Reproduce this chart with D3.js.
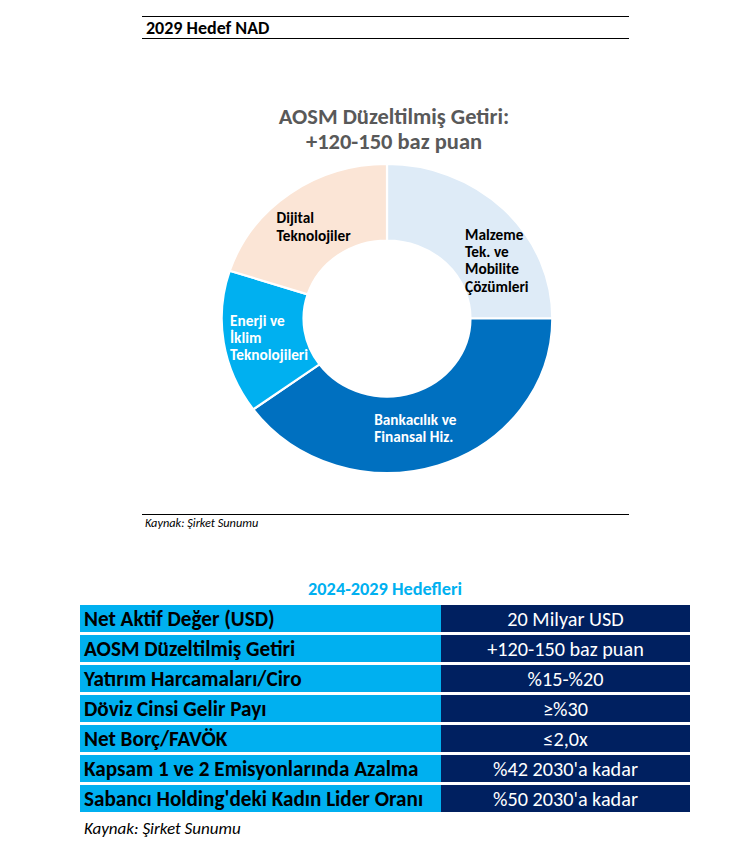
<!DOCTYPE html>
<html><head><meta charset="utf-8">
<script src="https://cdn.jsdelivr.net/npm/d3@7"></script>
<style>
html,body{margin:0;padding:0;background:#fff;}
svg{display:block;}
text{font-family:Carlito, Lato, "Open Sans", sans-serif;}
</style></head>
<body><svg id="c" width="752" height="855"></svg>
<script>
// ---- data ----
const segments = ["Malzeme Tek. ve Mobilite Çözümleri","Bankacılık ve Finansal Hiz.","Enerji ve İklim Teknolojileri","Dijital Teknolojiler"];
const segmentLines = [["Malzeme","Tek. ve","Mobilite","Çözümleri"],["Bankacılık ve","Finansal Hiz."],["Enerji ve","İklim","Teknolojileri"],["Dijital","Teknolojiler"]];
const segmentValues = [25,40,15,20];
const segmentColors = ["#DEEBF7","#0070C0","#00B0F0","#FBE5D6"];
const segmentTextColors = ["#000000","#ffffff","#ffffff","#000000"];
const metrics = ["Net Aktif Değer (USD)","AOSM Düzeltilmiş Getiri","Yatırım Harcamaları/Ciro","Döviz Cinsi Gelir Payı","Net Borç/FAVÖK","Kapsam 1 ve 2 Emisyonlarında Azalma","Sabancı Holding'deki Kadın Lider Oranı"];
const targets = ["20 Milyar USD","+120-150 baz puan","%15-%20","≥%30","≤2,0x","%42 2030'a kadar","%50 2030'a kadar"];

const svg = d3.select("#c");

// header
svg.append("line").attr("x1",142).attr("x2",629).attr("y1",16.5).attr("y2",16.5).attr("stroke","#000").attr("stroke-width",1.2);
svg.append("line").attr("x1",142).attr("x2",629).attr("y1",38.5).attr("y2",38.5).attr("stroke","#000").attr("stroke-width",1.2);
svg.append("text").attr("x",146).attr("y",34).attr("font-size",18).attr("font-weight","bold").attr("fill","#000").text("2029 Hedef NAD");

// donut title
svg.append("text").attr("x",394).attr("y",124).attr("text-anchor","middle").attr("font-size",22.5).attr("font-weight","bold").attr("fill","#595959").text("AOSM Düzeltilmiş Getiri:");
svg.append("text").attr("x",394).attr("y",149).attr("text-anchor","middle").attr("font-size",22.5).attr("font-weight","bold").attr("fill","#595959").text("+120-150 baz puan");

// donut
const cx = 387, cy = 318.5, sx = 1.07;
const pie = d3.pie().sort(null).value(d=>d)(segmentValues);
const arc = d3.arc().innerRadius(78).outerRadius(154.5);
const g = svg.append("g").attr("transform",`translate(${cx},${cy})`);
const gs = g.append("g").attr("transform",`scale(${sx},1)`);
gs.selectAll("path").data(pie).join("path")
  .attr("d",arc).attr("fill",(d,i)=>segmentColors[i])
  .attr("stroke","#fff").attr("stroke-width",2.2).attr("vector-effect","non-scaling-stroke");

const nudges = [[22,24],[-10,-1],[5,1],[0,2]];
const lh = 17.3;
pie.forEach((p,i)=>{
  const c = arc.centroid(p);
  const bx = c[0]*sx + nudges[i][0], by = c[1] + nudges[i][1];
  const lines = segmentLines[i];
  const t = g.append("text").attr("font-size",15.3).attr("font-weight","bold").attr("fill",segmentTextColors[i]);
  lines.forEach((l,j)=>{
    t.append("tspan").attr("x",0).attr("y",by + (j-(lines.length-1)/2)*lh + 5.5).text(l);
  });
  const w = t.node().getBBox().width;
  t.selectAll("tspan").attr("x",bx - w/2);
});

// source line
svg.append("line").attr("x1",142).attr("x2",629).attr("y1",514.5).attr("y2",514.5).attr("stroke","#000").attr("stroke-width",1.2);
svg.append("text").attr("x",145).attr("y",527).attr("font-size",12.3).attr("font-style","italic").attr("fill","#000").text("Kaynak: Şirket Sunumu");

// table
svg.append("text").attr("x",385).attr("y",595).attr("text-anchor","middle").attr("font-size",18.3).attr("font-weight","bold").attr("fill","#00B0F0").text("2024-2029 Hedefleri");

const tx0 = 80, tx1 = 441, tx2 = 690, ty0 = 605, ty1 = 812;
const y = d3.scaleBand().domain(metrics).range([ty0,ty1]).paddingInner(0.1).paddingOuter(0);
const rows = svg.append("g").selectAll("g").data(metrics).join("g");
rows.append("rect").attr("x",tx0).attr("y",d=>y(d)).attr("width",tx1-tx0).attr("height",y.bandwidth()).attr("fill","#00B0F0");
rows.append("rect").attr("x",tx1).attr("y",d=>y(d)).attr("width",tx2-tx1).attr("height",y.bandwidth()).attr("fill","#002060");
rows.append("text").attr("x",tx0+4).attr("y",d=>y(d)+y.bandwidth()/2+7.5).attr("font-size",21.2).attr("font-weight","bold").attr("fill","#000").text(d=>d);
rows.append("text").attr("x",(tx1+tx2)/2).attr("y",d=>y(d)+y.bandwidth()/2+7.2).attr("text-anchor","middle").attr("font-size",20.2).attr("fill","#fff").text((d,i)=>targets[i]);

svg.append("text").attr("x",84).attr("y",834).attr("font-size",17).attr("font-style","italic").attr("fill","#000").text("Kaynak: Şirket Sunumu");
</script></body></html>
